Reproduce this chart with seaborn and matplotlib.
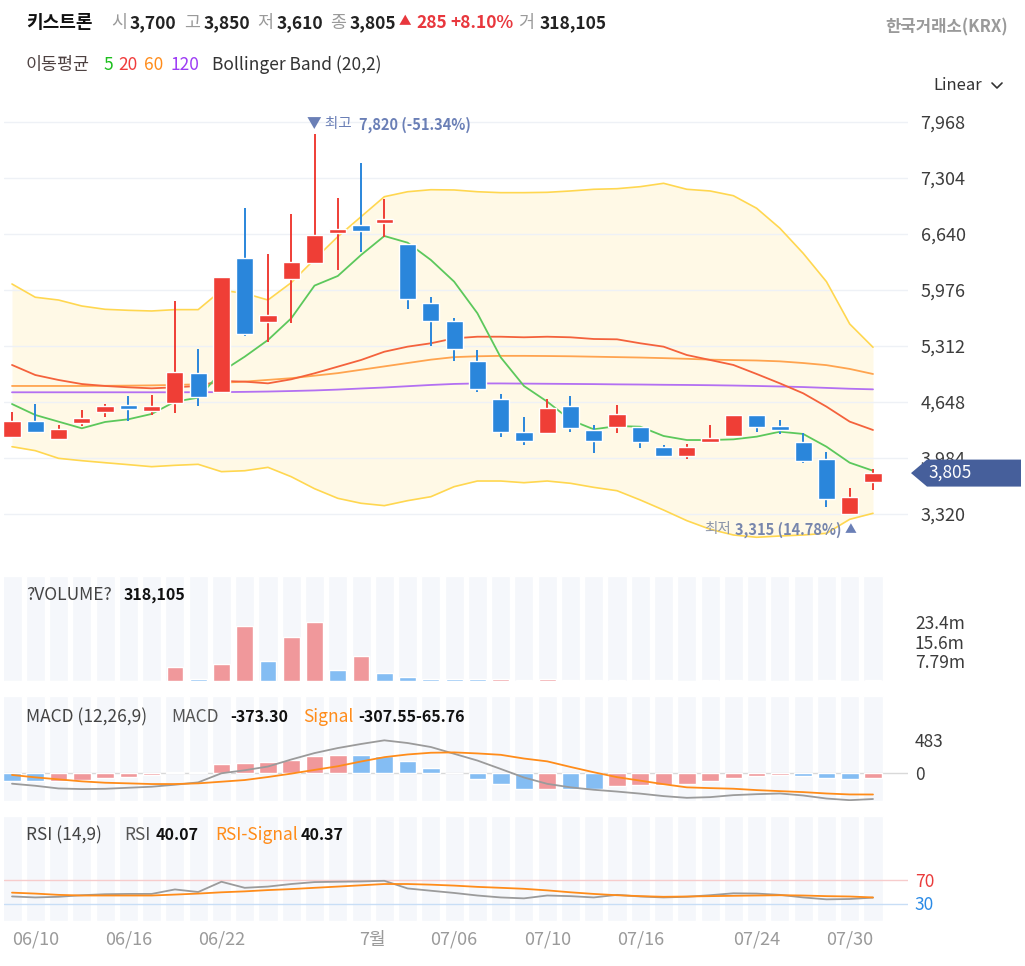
import numpy as np
import pandas as pd
import matplotlib
matplotlib.use('Agg')
import matplotlib.pyplot as plt
import seaborn as sns
from matplotlib.patches import Polygon
from matplotlib.lines import Line2D
from matplotlib import transforms

# daily candles (KRW)
open_ = [4233, 4423, 4206, 4403, 4526, 4612, 4545, 4633, 4988, 4763,
         6355, 5593, 6110, 6300, 6648, 6747, 6767, 6521, 5822, 5608,
         5131, 4684, 4292, 4277, 4600, 4316, 4348, 4348, 4111, 4011,
         4170, 4245, 4490, 4360, 4170, 3972, 3316, 3700]
close_ = [4423, 4296, 4328, 4455, 4600, 4561, 4600, 5000, 4704, 6127,
          5451, 5680, 6304, 6625, 6696, 6679, 6818, 5866, 5612, 5273,
          4806, 4296, 4189, 4580, 4343, 4189, 4506, 4170, 4011, 4111,
          4218, 4490, 4348, 4316, 3945, 3498, 3520, 3805]
high = [4533, 4624, 4375, 4553, 4624, 4723, 4731, 5846, 5273, 6130,
        6945, 6399, 6877, 7820, 7070, 7485, 7051, 6521, 5897, 5640,
        5265, 4739, 4474, 4684, 4723, 4375, 4612, 4348, 4138, 4146,
        4375, 4490, 4490, 4435, 4277, 4059, 3625, 3850]
low = [4225, 4277, 4200, 4363, 4467, 4426, 4494, 4514, 4600, 4755,
       5435, 5356, 5588, 6300, 6213, 6430, 6601, 5747, 5316, 5134,
       4763, 4237, 4138, 4277, 4296, 4047, 4277, 4099, 3992, 3976,
       4170, 4245, 4289, 4265, 3928, 3399, 3315, 3610]
volume = [90000, 80000, 90000, 70000, 80000, 70000, 80000, 5500000, 950000, 6700000,
          21600000, 8100000, 17400000, 23300000, 4500000, 9800000, 3200000, 1500000, 950000, 900000,
          850000, 900000, 300000, 900000, 300000, 280000, 300000, 250000, 220000, 80000,
          300000, 250000, 90000, 80000, 70000, 300000, 100000, 318105]

ma5 = [4624, 4494, 4415, 4336, 4411, 4443, 4506, 4652, 4699, 5007,
       5185, 5383, 5640, 6028, 6142, 6391, 6616, 6537, 6332, 6075,
       5700, 5178, 4838, 4652, 4435, 4324, 4363, 4355, 4245, 4197,
       4197, 4205, 4237, 4296, 4269, 4118, 3928, 3833]
ma20 = [5087, 4968, 4909, 4861, 4838, 4822, 4810, 4822, 4838, 4897,
        4889, 4869, 4917, 4988, 5067, 5146, 5244, 5304, 5344, 5403,
        5422, 5422, 5415, 5422, 5415, 5395, 5391, 5344, 5304, 5205,
        5146, 5087, 4980, 4869, 4751, 4593, 4415, 4316]
ma60 = [4838, 4838, 4838, 4838, 4840, 4842, 4845, 4850, 4858, 4875,
        4890, 4910, 4930, 4960, 4990, 5030, 5070, 5110, 5150, 5180,
        5190, 5195, 5195, 5193, 5190, 5185, 5180, 5175, 5168, 5160,
        5150, 5145, 5140, 5130, 5110, 5085, 5040, 4980]
ma120 = [4763, 4763, 4763, 4763, 4763, 4763, 4763, 4763, 4764, 4765,
         4768, 4772, 4778, 4785, 4795, 4808, 4820, 4835, 4850, 4862,
         4868, 4868, 4866, 4864, 4862, 4860, 4857, 4855, 4852, 4850,
         4847, 4843, 4838, 4832, 4825, 4815, 4805, 4798]
bb_up = [6047, 5890, 5857, 5786, 5747, 5735, 5727, 5743, 5743, 5972,
         5937, 5857, 6063, 6340, 6608, 6845, 7082, 7141, 7165, 7162,
         7141, 7130, 7130, 7134, 7150, 7170, 7177, 7201, 7241, 7170,
         7150, 7094, 6945, 6708, 6411, 6075, 5573, 5297]
bb_dn = [4118, 4071, 3980, 3952, 3928, 3905, 3881, 3897, 3909, 3822,
         3833, 3873, 3762, 3620, 3506, 3447, 3419, 3478, 3525, 3644,
         3711, 3711, 3691, 3711, 3684, 3636, 3596, 3486, 3367, 3241,
         3139, 3071, 3044, 3059, 3071, 3091, 3257, 3328]

macd = [-151, -181, -220, -229, -225, -210, -195, -166, -132, 0,
        44, 98, 200, 293, 366, 425, 478, 439, 381, 283,
        185, 63, -61, -153, -204, -239, -265, -295, -331, -356,
        -346, -317, -303, -293, -322, -366, -390, -373.30]
signal = [-24, -59, -88, -117, -137, -146, -156, -156, -146, -122,
          -98, -54, -5, 49, 102, 171, 234, 273, 298, 303,
          288, 268, 214, 173, 92, 15, -56, -107, -158, -204,
          -215, -224, -244, -259, -273, -293, -307, -307.55]
hist = [-107, -110, -105, -98, -73, -49, -24, 20, 22, 132,
        156, 157, 195, 244, 266, 262, 244, 171, 83, 3,
        -88, -156, -229, -225, -229, -232, -178, -176, -174, -150,
        -107, -63, -39, -24, -44, -63, -88, -65.76]

rsi = [42.1, 40.4, 41.5, 44.2, 45.9, 46.4, 46.4, 54.1, 49.7, 67.3,
       56.9, 59.0, 63.4, 66.7, 67.3, 67.8, 68.9, 55.8, 51.9, 48.1,
       43.7, 40.4, 38.8, 43.7, 42.6, 40.4, 44.8, 42.0, 40.4, 41.5,
       44.2, 47.5, 47.0, 44.8, 40.4, 37.1, 37.7, 40.07]
rsi_sig = [48.6, 47.0, 44.8, 43.7, 43.7, 43.7, 43.7, 45.3, 47.0, 49.2,
           50.8, 53.0, 54.7, 56.9, 59.0, 61.2, 63.4, 63.4, 62.3, 60.7,
           58.5, 56.9, 55.2, 52.5, 49.2, 46.4, 44.2, 42.6, 41.5, 42.0,
           42.6, 43.2, 43.7, 44.2, 43.7, 42.6, 42.0, 40.37]

price_ticks = [3320, 3984, 4648, 5312, 5976, 6640, 7304, 7968]
vol_ticks = [7.79, 15.6, 23.4]
vol_tick_lbl = ['7.79m', '15.6m', '23.4m']
macd_ticks = [0, 483]
rsi_ticks = [30, 70]
date_pos = [1, 5, 9, 15.5, 19, 23, 27, 32, 36]
date_lbl = ['06/10', '06/16', '06/22', '7월', '07/06', '07/10', '07/16', '07/24', '07/30']

RED, BLUE = '#ef3e36', '#2a86db'
VRED, VBLUE = '#f0989b', '#84bdf3'
STRIPE = '#f5f7fb'
ORANGE = '#ff8c1a'
GRAYL = '#9a9a9a'

df = pd.DataFrame({'i': np.arange(len(close_)), 'open': open_, 'close': close_,
                   'high': high, 'low': low, 'vol': np.array(volume) / 1e6,
                   'ma5': ma5, 'ma20': ma20, 'ma60': ma60, 'ma120': ma120,
                   'bb_up': bb_up, 'bb_dn': bb_dn, 'macd': macd, 'signal': signal,
                   'hist': hist, 'rsi': rsi, 'rsi_sig': rsi_sig})

sns.set_theme(style='white')
plt.rcParams['font.family'] = ['Noto Sans CJK KR', 'DejaVu Sans']
plt.rcParams['axes.unicode_minus'] = False

W, H = 1025, 966
fig = plt.figure(figsize=(W / 100, H / 100), dpi=100)


def box(top, bottom, left=4, right=908):
    return [left / W, 1 - bottom / H, (right - left) / W, (bottom - top) / H]


def T(px, py, s, **kw):
    kw.setdefault('va', 'center')
    return fig.text(px / W, 1 - py / H, s, **kw)


ax = fig.add_axes(box(95, 550))
ax_v = fig.add_axes(box(576, 681))
ax_m = fig.add_axes(box(696, 801))
ax_r = fig.add_axes(box(816, 921))
xlim = ((4 - 12) / 23.27, (908 - 12) / 23.27)
for a in (ax, ax_v, ax_m, ax_r):
    a.set_xlim(*xlim)
    a.set_facecolor('white')
    sns.despine(ax=a, left=True, bottom=True)
    a.set_xticks([])

# --- price panel ---
ax.set_ylim(2893, 8288)
ax.fill_between(df['i'], df['bb_dn'], df['bb_up'], color='#fff9e6', lw=0, zorder=0)
for col, c, lw in [('bb_up', '#ffd750', 1.2), ('bb_dn', '#ffd750', 1.2),
                   ('ma120', '#b370f2', 1.3), ('ma60', '#ffa44f', 1.3),
                   ('ma20', '#f4623c', 1.3), ('ma5', '#5cc85c', 1.3)]:
    sns.lineplot(data=df, x='i', y=col, ax=ax, color=c, lw=lw, zorder=2, legend=False)

up = df['close'] >= df['open']
ccol = np.where(up, RED, BLUE)
ax.vlines(df['i'], df['low'], df['high'], colors=ccol, lw=1.4, zorder=3)
body = np.maximum((df['close'] - df['open']).abs(), 14)
ax.bar(df['i'], body, bottom=np.minimum(df['open'], df['close']), width=0.74,
       color=ccol, zorder=4)

ax.set_yticks(price_ticks)
ax.set_yticklabels([f'{t:,}' for t in price_ticks])
ax.yaxis.tick_right()
ax.tick_params(axis='y', length=0, pad=9, labelsize=13, labelcolor='#3c3c3c')
ax.yaxis.grid(True, color='#eef1f6', lw=1)
ax.set_xlabel('')
ax.set_ylabel('')

# high / low annotations
hi_i = int(np.argmax(high))
lo_i = int(np.argmin(low))
last = close_[-1]
acol = '#6a7fb6'
ax.annotate('▼ 최고', xy=(hi_i, high[hi_i]), xytext=(-8, 10), textcoords='offset pixels',
            ha='left', va='center', color=acol, fontsize=10.5)
ax.annotate(f'{high[hi_i]:,} ({(last - high[hi_i]) / high[hi_i] * 100:.2f}%)',
            xy=(hi_i, high[hi_i]), xytext=(44, 10), textcoords='offset pixels',
            ha='left', va='center', color=acol, fontsize=10.5, weight='bold')
ax.annotate('▲', xy=(lo_i, low[lo_i]), xytext=(1, -15), textcoords='offset pixels',
            ha='center', va='center', color=acol, fontsize=8.5)
ax.annotate(f'{low[lo_i]:,} ({(last - low[lo_i]) / low[lo_i] * 100:.2f}%)',
            xy=(lo_i, low[lo_i]), xytext=(-8, -15), textcoords='offset pixels',
            ha='right', va='center', color='#7786ad', fontsize=10.5, weight='bold', zorder=6)
ax.annotate('최저', xy=(lo_i, low[lo_i]), xytext=(-119, -15), textcoords='offset pixels',
            ha='right', va='center', color='#8e97ab', fontsize=10.5, zorder=6)

# last price tag (covers the neighbouring axis label, as in the original)
tr = transforms.blended_transform_factory(fig.transFigure, ax.transData)
hh = 13.5 * 11.857
tag = Polygon([(911 / W, last), (927 / W, last + hh), (1021 / W, last + hh),
               (1021 / W, last - hh), (927 / W, last - hh)], closed=True,
              transform=tr, facecolor='#465f9b', edgecolor='none', clip_on=False, zorder=10)
ax.add_patch(tag)
ax.text(950 / W, last, f'{last:,}', transform=tr, ha='center', va='center',
        color='white', fontsize=12.5, zorder=11, clip_on=False)

# --- volume panel ---
vmax = (681 - 576) / 2.53
ax_v.set_ylim(0, vmax)
ax_v.bar(df['i'], vmax, width=0.82, color=STRIPE, zorder=0)
vcol = [VBLUE] + [VRED if volume[k] >= volume[k - 1] else VBLUE for k in range(1, len(volume))]
ax_v.bar(df['i'], df['vol'], width=0.72, color=vcol, zorder=2)
ax_v.set_yticks(vol_ticks)
ax_v.set_yticklabels(vol_tick_lbl)
ax_v.yaxis.tick_right()
ax_v.tick_params(axis='y', length=0, pad=5, labelsize=12.5, labelcolor='#3c3c3c')

# --- MACD panel ---
ax_m.set_ylim(-402, 1121)
ax_m.bar(df['i'], 1523, bottom=-402, width=0.82, color=STRIPE, zorder=0)
ax_m.axhline(0, color='#d9d9d9', lw=1, zorder=1)
hcol = [VBLUE] + [VRED if hist[k] > hist[k - 1] else VBLUE for k in range(1, len(hist))]
ax_m.bar(df['i'], df['hist'], width=0.76, color=hcol, zorder=2)
sns.lineplot(data=df, x='i', y='macd', ax=ax_m, color='#9b9b9b', lw=1.3, zorder=3, legend=False)
sns.lineplot(data=df, x='i', y='signal', ax=ax_m, color=ORANGE, lw=1.3, zorder=3, legend=False)
ax_m.set_yticks(macd_ticks)
ax_m.set_yticklabels([str(t) for t in macd_ticks])
ax_m.yaxis.tick_right()
ax_m.tick_params(axis='y', length=0, pad=5, labelsize=12.5, labelcolor='#3c3c3c')

# --- RSI panel ---
ax_r.set_ylim(0, 180)
ax_r.bar(df['i'], 180, width=0.82, color=STRIPE, zorder=0)
ax_r.axhline(70, color='#f7cccc', lw=1, zorder=1)
ax_r.axhline(30, color='#c8def6', lw=1, zorder=1)
sns.lineplot(data=df, x='i', y='rsi', ax=ax_r, color='#9b9b9b', lw=1.3, zorder=3, legend=False)
sns.lineplot(data=df, x='i', y='rsi_sig', ax=ax_r, color=ORANGE, lw=1.3, zorder=3, legend=False)
ax_r.set_yticks(rsi_ticks)
ax_r.set_yticklabels([str(t) for t in rsi_ticks])
ax_r.yaxis.tick_right()
ax_r.tick_params(axis='y', length=0, pad=5, labelsize=12.5)
for lbl, c in zip(ax_r.get_yticklabels(), ['#2a8ae6', '#ea3b3b']):
    lbl.set_color(c)
ax_r.set_xticks(date_pos)
ax_r.set_xticklabels(date_lbl)
ax_r.tick_params(axis='x', length=0, pad=7, labelsize=13, labelcolor='#9a9a9a')
ax_r.set_xlim(*xlim)

for a in (ax_v, ax_m, ax_r):
    a.set_xlabel('')
    a.set_ylabel('')
    a.grid(False)

# --- header ---
chg = close_[-1] - close_[-2]
pct = chg / close_[-2] * 100
T(26, 23, '키스트론', size=13, weight='bold', color='#111111')
for px, s in [(111, '시'), (184, '고'), (257, '저'), (330, '종'), (518, '거')]:
    T(px, 23, s, size=12.5, color=GRAYL)
for px, v in [(130, open_[-1]), (204, high[-1]), (277, low[-1]), (350, close_[-1]), (540, volume[-1])]:
    T(px, 23, f'{v:,}', size=12.5, weight='bold', color='#222222')
T(399, 22, '▲', size=9, color='#e8373d')
T(416, 23, f'{chg:,}', size=12.5, weight='bold', color='#e8373d')
T(450, 23, f'{pct:+.2f}%', size=12.5, weight='bold', color='#e8373d')
T(1008, 27, '한국거래소(KRX)', ha='right', size=12, weight='bold', color=GRAYL)

T(26, 65, '이동평균', size=12.5, color='#4e4242')
T(103, 65, '5', size=12.5, color='#1dbf1d')
T(118, 65, '20', size=12.5, color='#f03c3c')
T(144, 65, '60', size=12.5, color='#ff8c1a')
T(170, 65, '120', size=12.5, color='#9d3cf5')
T(212, 65, 'Bollinger Band (20,2)', size=12.5, color='#333333')
T(933, 86, 'Linear', size=12, color='#333333')
fig.add_artist(Line2D([992 / W, 997 / W, 1002 / W], [1 - 83 / H, 1 - 88 / H, 1 - 83 / H],
                      color='#333333', lw=1.2))

# --- panel titles ---
T(26, 595, '?VOLUME?', size=12.5, color='#444444')
T(124, 595, f'{volume[-1]:,}', size=11.5, weight='bold', color='#111111')
T(26, 717, 'MACD (12,26,9)', size=12.5, color='#444444')
T(171, 717, 'MACD', size=12.5, color='#555555')
T(230, 717, f'{macd[-1]:.2f}', size=11.5, weight='bold', color='#111111')
T(303, 717, 'Signal', size=12.5, color=ORANGE)
T(358, 717, f'{signal[-1]:.2f}{hist[-1]:.2f}', size=11.5, weight='bold', color='#111111')
T(26, 835, 'RSI (14,9)', size=12.5, color='#444444')
T(124, 835, 'RSI', size=12.5, color='#555555')
T(156, 835, f'{rsi[-1]:.2f}', size=11.5, weight='bold', color='#111111')
T(215, 835, 'RSI-Signal', size=12.5, color=ORANGE)
T(301, 835, f'{rsi_sig[-1]:.2f}', size=11.5, weight='bold', color='#111111')

fig.savefig('out.png', dpi=100)
